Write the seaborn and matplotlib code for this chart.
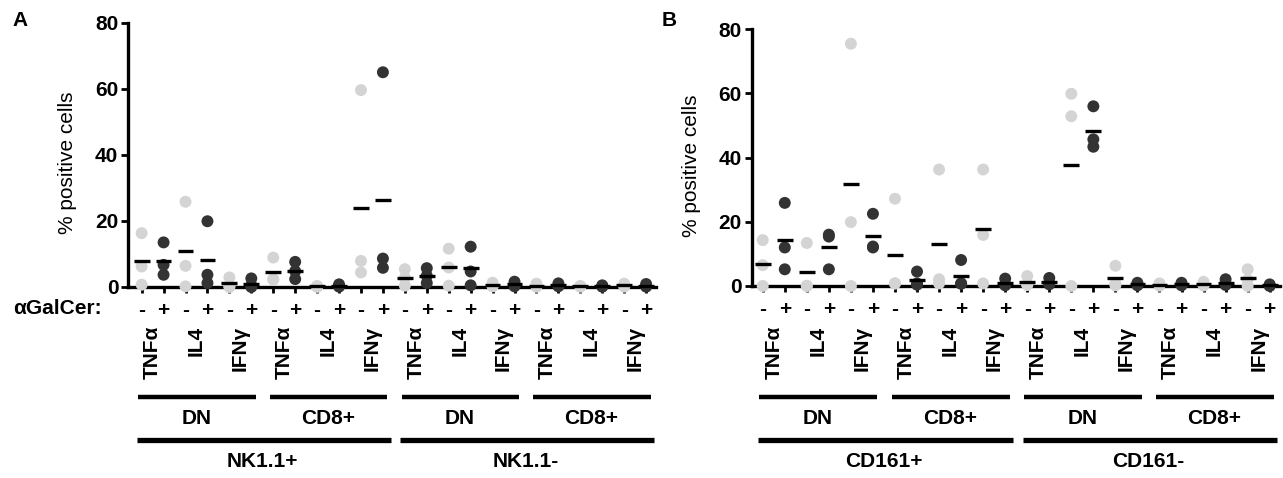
import numpy as np
import pandas as pd
import matplotlib
matplotlib.use("Agg")
import matplotlib.pyplot as plt
import matplotlib.transforms as mtransforms
import seaborn as sns

# categories
signs = ["-", "+"]
cytokines = ["TNFα", "IL4", "IFNγ"]
subsets = ["DN", "CD8+"]
populations_a = ["NK1.1+", "NK1.1-"]
populations_b = ["CD161+", "CD161-"]

# % positive cells, 3 mice per column, columns ordered pop > subset > cytokine > sign
values_a = [
    [16.3, 6.2, 0.7], [13.5, 6.7, 3.7],
    [25.8, 6.4, 0.2], [19.9, 3.7, 1.2],
    [2.9, 0.3, 0.0], [2.6, 0.5, 0.0],
    [8.9, 2.4, 2.2], [7.6, 4.8, 2.4],
    [0.3, 0.1, 0.1], [0.8, 0.3, 0.1],
    [59.6, 7.9, 4.4], [65.0, 8.6, 5.8],
    [5.4, 2.8, 0.4], [5.7, 3.4, 1.2],
    [11.6, 5.9, 0.4], [12.2, 4.7, 0.5],
    [1.3, 0.3, 0.2], [1.6, 0.8, 0.2],
    [1.0, 0.2, 0.1], [1.1, 0.4, 0.2],
    [0.3, 0.2, 0.1], [0.5, 0.2, 0.1],
    [1.0, 0.3, 0.1], [0.9, 0.3, 0.1],
]
values_b = [
    [14.3, 6.5, 0.0], [25.9, 12.0, 5.2],
    [13.4, 0.1, 0.0], [16.0, 15.4, 5.2],
    [75.5, 19.9, 0.0], [22.5, 12.3, 12.0],
    [27.2, 0.8, 0.8], [4.5, 0.8, 0.4],
    [36.3, 2.1, 0.8], [8.1, 0.8, 0.7],
    [36.3, 15.9, 0.8], [2.3, 0.5, 0.2],
    [3.1, 0.5, 0.3], [2.5, 0.9, 0.5],
    [59.9, 52.9, 0.0], [56.0, 45.7, 43.4],
    [6.3, 0.8, 0.2], [1.0, 0.4, 0.2],
    [0.8, 0.3, 0.1], [1.0, 0.5, 0.2],
    [1.3, 0.2, 0.2], [2.1, 0.8, 0.3],
    [5.2, 1.9, 0.0], [0.5, 0.2, 0.0],
]

light = "#d4d4d4"
dark = "#333333"
FS = 15

sns.set_style("ticks")
plt.rcParams["font.family"] = ["Liberation Sans", "DejaVu Sans"]
plt.rcParams["font.weight"] = "bold"
for key in ["text.color", "axes.labelcolor", "xtick.color", "ytick.color", "axes.edgecolor"]:
    plt.rcParams[key] = "black"

fig = plt.figure(figsize=(12.83, 4.78), dpi=100)
ax_a = fig.add_axes([0.0998, 0.3996, 0.4115, 0.5529])
ax_b = fig.add_axes([0.5859, 0.4017, 0.4118, 0.5370])


def make_df(vals):
    rows = []
    for i, trip in enumerate(vals):
        for v in trip:
            rows.append({"col": i, "value": v, "sign": signs[i % 2]})
    return pd.DataFrame(rows)


def draw_panel(ax, vals, pops, xlim):
    df = make_df(vals)
    sns.stripplot(data=df, x="col", y="value", hue="sign", native_scale=True,
                  jitter=False, palette={"-": light, "+": dark}, size=8.6,
                  linewidth=0, legend=False, ax=ax, clip_on=False, zorder=5)
    means = df.groupby("col")["value"].mean()
    ax.hlines(means.values, means.index - 0.36, means.index + 0.36,
              color="black", lw=2.4, zorder=6, clip_on=False)

    ax.set_xlim(*xlim)
    ax.set_ylim(0, 80)
    ax.set_yticks([0, 20, 40, 60, 80])
    ax.set_xticks(range(len(vals)))
    ax.set_xticklabels([signs[i % 2] for i in range(len(vals))])
    ax.tick_params(axis="x", length=4, width=2, pad=6, labelsize=FS)
    ax.tick_params(axis="y", length=5, width=2, pad=2, labelsize=FS)
    for lab in ax.get_xticklabels() + ax.get_yticklabels():
        lab.set_fontweight("bold")
    sns.despine(ax=ax)
    ax.spines["left"].set_linewidth(2.4)
    ax.spines["bottom"].set_linewidth(2.4)
    ax.set_xlabel("")
    ax.set_ylabel("% positive cells", fontsize=FS, fontweight="normal")
    ax.yaxis.set_label_coords(-0.096, 0.47)

    tr = mtransforms.blended_transform_factory(ax.transData, fig.transFigure)
    n = 0
    for p, pop in enumerate(pops):
        start_pop = n
        for s, sub in enumerate(subsets):
            start_sub = n
            for cyt in cytokines:
                ax.text(n + 0.5, 0.318, cyt, rotation=90, ha="center", va="top",
                        fontsize=FS, fontweight="bold", transform=tr)
                n += 2
            ax.plot([start_sub - 0.15, n - 1 + 0.2], [0.170, 0.170], color="black",
                    lw=3.2, transform=tr, clip_on=False, solid_capstyle="butt")
            ax.text((start_sub + n - 1) / 2, 0.125, sub, ha="center", va="center",
                    fontsize=FS, fontweight="bold", transform=tr)
        ax.plot([start_pop - 0.2, n - 1 + 0.35], [0.079, 0.079], color="black",
                lw=3.8, transform=tr, clip_on=False, solid_capstyle="butt")
        ax.text((start_pop + n - 1) / 2, 0.034, pop, ha="center", va="center",
                fontsize=FS, fontweight="bold", transform=tr)


draw_panel(ax_a, values_a, populations_a, (-0.62, 23.45))
draw_panel(ax_b, values_b, populations_b, (-0.5, 23.47))

fig.text(0.010, 0.354, "αGalCer:", ha="left", va="center", fontsize=FS, fontweight="bold")
fig.text(0.010, 0.958, "A", ha="left", va="center", fontsize=FS, fontweight="bold")
fig.text(0.516, 0.958, "B", ha="left", va="center", fontsize=FS, fontweight="bold")

fig.savefig("out.png", dpi=100)
